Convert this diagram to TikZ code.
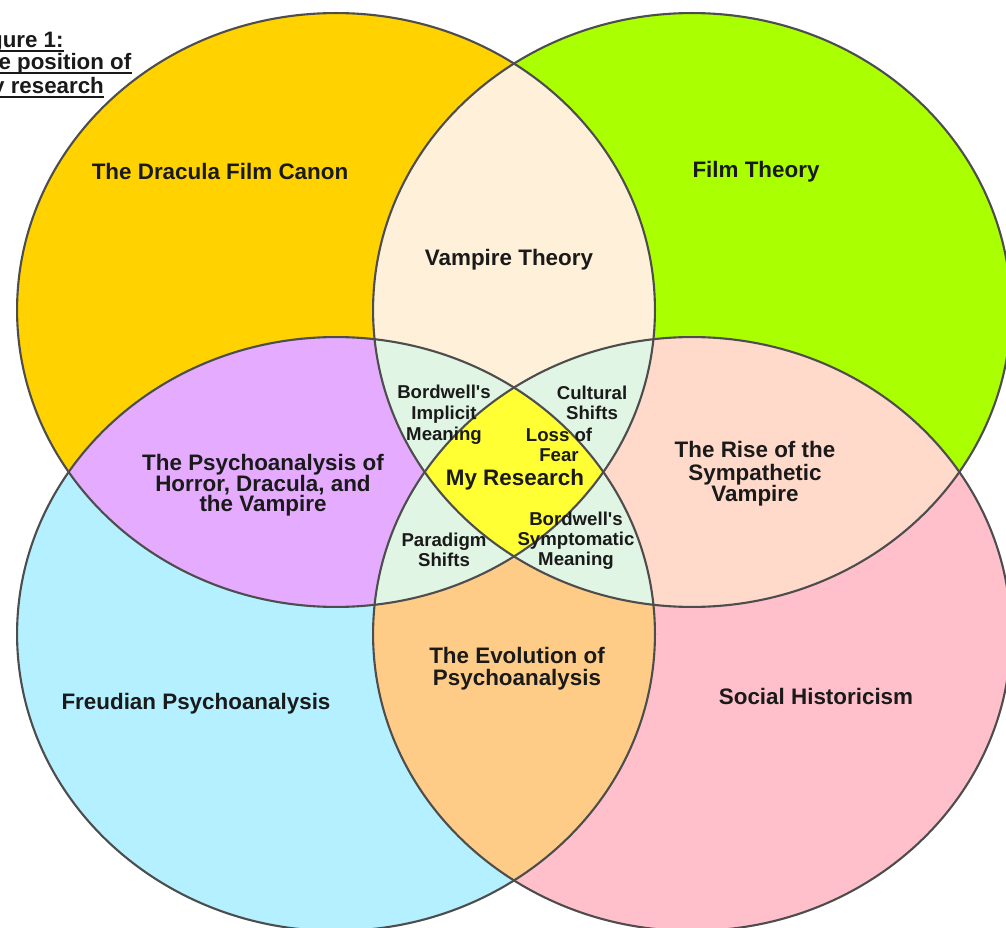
\documentclass[tikz,border=0pt]{standalone}
\usepackage{fontspec}
\setmainfont{Liberation Sans}
\definecolor{cTL}{HTML}{FFD200}
\definecolor{cTR}{HTML}{AAFF00}
\definecolor{cBL}{HTML}{B4F0FF}
\definecolor{cBR}{HTML}{FFC0CB}
\definecolor{cCream}{HTML}{FFF0D9}
\definecolor{cPurple}{HTML}{E4ABFF}
\definecolor{cPeach}{HTML}{FFDACA}
\definecolor{cTan}{HTML}{FFCC88}
\definecolor{cGreen}{HTML}{E0F5E3}
\definecolor{cYellow}{HTML}{FFFF33}
\definecolor{cLine}{HTML}{4D4D4D}
\definecolor{cText}{HTML}{1A1A1A}
\begin{document}
\begin{tikzpicture}[x=0.02cm,y=-0.02cm,
  outl/.style={draw=cLine,line width=1.2pt},
  big/.style={anchor=base,inner sep=0pt,text=cText,font=\fontsize{12.75}{12.2}\selectfont\bfseries},
  small/.style={anchor=base,inner sep=0pt,text=cText,font=\fontsize{10.6}{11}\selectfont\bfseries},
  ttl/.style={anchor=base west,inner sep=0pt,text=cText,font=\fontsize{12.7}{13}\selectfont\bfseries},
  ul/.style={draw=cText,line width=1.1pt}]
\useasboundingbox (0,0) rectangle (1006,928);
\fill[white] (0,0) rectangle (1006,928);
\def\TL{(336,310) ellipse [x radius=6.38cm, y radius=5.94cm]}
\def\TR{(692,310) ellipse [x radius=6.38cm, y radius=5.94cm]}
\def\BL{(336,634) ellipse [x radius=6.38cm, y radius=5.94cm]}
\def\BR{(692,634) ellipse [x radius=6.38cm, y radius=5.94cm]}
% single regions
\fill[cTL] \TL; \fill[cTR] \TR; \fill[cBL] \BL; \fill[cBR] \BR;
% pairs
\begin{scope}\clip \TL; \fill[cCream] \TR; \end{scope}
\begin{scope}\clip \BL; \fill[cTan] \BR; \end{scope}
\begin{scope}\clip \TL; \fill[cPurple] \BL; \end{scope}
\begin{scope}\clip \TR; \fill[cPeach] \BR; \end{scope}
% triples
\begin{scope}\clip \TL; \clip \TR; \fill[cGreen] \BL; \end{scope}
\begin{scope}\clip \TL; \clip \TR; \fill[cGreen] \BR; \end{scope}
\begin{scope}\clip \TL; \clip \BL; \fill[cGreen] \BR; \end{scope}
\begin{scope}\clip \TR; \clip \BL; \fill[cGreen] \BR; \end{scope}
% all four
\begin{scope}\clip \TL; \clip \TR; \clip \BL; \fill[cYellow] \BR; \end{scope}
% outlines
\draw[outl] \TL; \draw[outl] \TR; \draw[outl] \BL; \draw[outl] \BR;
% title (cut off at the left edge, as in the reference)
\node[ttl] (t1) at (-31,48) {Figure 1:};
\node[ttl] (t2) at (-29,70) {The position of};
\node[ttl] (t3) at (-28,94) {my research};
\draw[ul] ([yshift=-1.6pt]t1.base west) -- ([yshift=-1.6pt]t1.base east);
\draw[ul] ([yshift=-1.6pt]t2.base west) -- ([yshift=-1.6pt]t2.base east);
\draw[ul] ([yshift=-1.6pt]t3.base west) -- ([yshift=-1.6pt]t3.base east);
% main labels
\node[big] (dfc) at (220,180) {The Dracula Film Canon};
\node[big] (ft) at (756,178) {Film Theory};
\node[big] (vt) at (509,266) {Vampire Theory};
\node[big] (ph1) at (263,470) {The Psychoanalysis of};
\node[big] (ph2) at (263,491) {Horror, Dracula, and};
\node[big] (ph3) at (263,511) {the Vampire};
\node[big] (rs1) at (755,458) {The Rise of the};
\node[big] (rs2) at (755,480) {Sympathetic};
\node[big] (rs3) at (755,501) {Vampire};
\node[big] (ev1) at (517,663) {The Evolution of};
\node[big] (ev2) at (517,685) {Psychoanalysis};
\node[big] (fp) at (196,709) {Freudian Psychoanalysis};
\node[big] (sh) at (816,704) {Social Historicism};
\node[big] (mr) at (515,485) {My Research};
% small labels
\node[small] (bi1) at (444,399) {Bordwell\textquotesingle s};
\node[small] (bi2) at (444,419) {Implicit};
\node[small] (bi3) at (444,440) {Meaning};
\node[small] (cs1) at (592,400) {Cultural};
\node[small] (cs2) at (592,419) {Shifts};
\node[small] (lf1) at (559,441) {Loss of};
\node[small] (lf2) at (559,461) {Fear};
\node[small] (bs1) at (576,525) {Bordwell\textquotesingle s};
\node[small] (bs2) at (576,545) {Symptomatic};
\node[small] (bs3) at (576,565) {Meaning};
\node[small] (ps1) at (444,546) {Paradigm};
\node[small] (ps2) at (444,566) {Shifts};
\end{tikzpicture}
\end{document}
